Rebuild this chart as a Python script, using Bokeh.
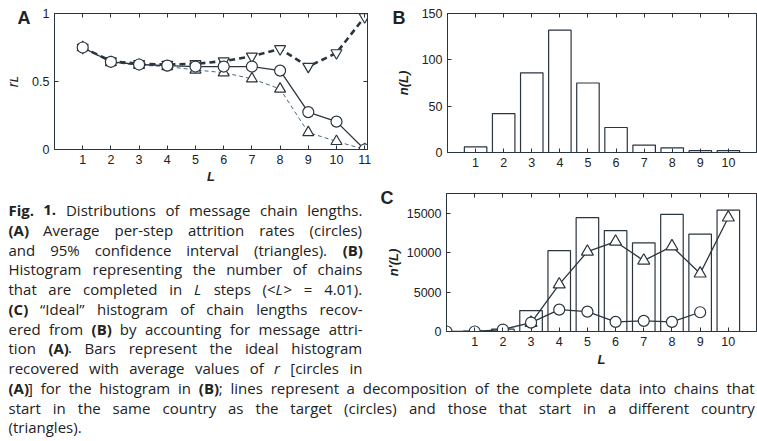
import re
from bokeh.plotting import figure
from bokeh.models import LinearAxis, FixedTicker, Range1d
from bokeh.layouts import column, row
from bokeh.embed import file_html
from bokeh.resources import INLINE
from bokeh.core.properties import value

# ---------------- data ----------------
# Panel A: per-step attrition rates
L_a = [1, 2, 3, 4, 5, 6, 7, 8, 9, 10, 11]
r_mean = [0.75, 0.645, 0.625, 0.617, 0.61, 0.61, 0.61, 0.58, 0.275, 0.205, 0.0]
r_upper = [0.75, 0.65, 0.63, 0.625, 0.63, 0.65, 0.685, 0.74, 0.61, 0.71, 0.975]
r_lower = [0.75, 0.64, 0.62, 0.61, 0.585, 0.565, 0.52, 0.445, 0.125, 0.06, 0.0]
a_xticks = [1, 2, 3, 4, 5, 6, 7, 8, 9, 10, 11]
a_yticks = [0, 0.5, 1]
a_ylabels = {0: "0", 0.5: "0.5", 1: "1"}

# Panel B: histogram of completed chains
L_b = [1, 2, 3, 4, 5, 6, 7, 8, 9, 10]
n_L = [6, 42, 86, 132, 75, 27, 8, 5, 2, 2]
b_yticks = [0, 50, 100, 150]

# Panel C: ideal histogram and decomposition
L_c = [1, 2, 3, 4, 5, 6, 7, 8, 9, 10]
n_ideal = [50, 300, 2650, 10250, 14450, 12800, 11250, 14850, 12350, 15400]
L_same = [0, 1, 2, 3, 4, 5, 6, 7, 8, 9]
n_same = [0, 0, 250, 1130, 2770, 2520, 1220, 1350, 1220, 2440]
L_diff = [3, 4, 5, 6, 7, 8, 9, 10]
n_diff = [1100, 5970, 10130, 11390, 8990, 10800, 7350, 14450]
c_xticks = [1, 2, 3, 4, 5, 6, 7, 8, 9, 10]
c_yticks = [0, 5000, 10000, 15000]

caption_lines = [
    "**Fig.** **1.** Distributions of message chain lengths.",
    "**(A)** Average per-step attrition rates (circles)",
    "and 95% confidence interval (triangles). **(B)**",
    "Histogram representing the number of chains",
    "that are completed in *L* steps (<*L*> = 4.01).",
    "**(C)** \u201cIdeal\u201d histogram of chain lengths recov-",
    "ered from **(B)** by accounting for message attri-",
    "tion **(A)**. Bars represent the ideal histogram",
    "recovered with average values of *r* [circles in",
    "**(A)**] for the histogram in **(B)**; lines represent a decomposition of the complete data into chains that",
    "start in the same country as the target (circles) and those that start in a different country",
    "(triangles).",
]

# ---------------- style ----------------
INK = "#2b3540"
TXT = "#222222"
AXFONT = "Liberation Sans"
TICKFS = "12.5px"
CAPFONT = "Open Sans"
CAPFS = 15.0


def style_axis(ax, ticks, labels=True, overrides=None):
    ax.ticker = FixedTicker(ticks=ticks)
    ax.major_tick_in = 4
    ax.major_tick_out = 0
    ax.minor_tick_line_color = None
    ax.axis_line_color = INK
    ax.major_tick_line_color = INK
    ax.major_label_text_font = AXFONT
    ax.major_label_text_color = TXT
    if labels:
        ax.major_label_text_font_size = TICKFS
        ax.major_label_standoff = 5
        if overrides:
            ax.major_label_overrides = overrides
    else:
        ax.major_label_text_font_size = "0px"
        ax.major_label_standoff = 0
        ax.major_label_overrides = {t: "" for t in ticks}


def panel(w, h, xr, yr, bl, br, bt, bb, xticks, yticks, yover=None, right_ticks=True):
    p = figure(width=w, height=h, x_range=Range1d(*xr), y_range=Range1d(*yr),
               output_backend="svg", toolbar_location=None, tools="",
               min_border_left=bl, min_border_right=br,
               min_border_top=bt, min_border_bottom=bb)
    p.frame_align = False
    p.grid.visible = False
    p.outline_line_color = INK
    p.outline_line_width = 1
    p.background_fill_color = "white"
    p.border_fill_color = "white"
    xb = p.xaxis[0]
    yl = p.yaxis[0]
    style_axis(xb, xticks)
    style_axis(yl, yticks, overrides=yover)
    top = LinearAxis()
    style_axis(top, xticks, labels=False)
    p.add_layout(top, "above")
    if right_ticks:
        right = LinearAxis()
        style_axis(right, yticks, labels=False)
        p.add_layout(right, "right")
    return p, xb, yl


def axis_label(ax, text, standoff, size="13px", style="bold italic"):
    ax.axis_label = text
    ax.axis_label_text_font = AXFONT
    ax.axis_label_text_font_size = size
    ax.axis_label_text_font_style = style
    ax.axis_label_text_color = TXT
    ax.axis_label_standoff = standoff


def letter_axis(p, y, text, standoff):
    """Panel letter drawn as the single tick label of an extra (line-less) left axis."""
    ax = LinearAxis(ticker=FixedTicker(ticks=[y]), major_label_overrides={y: text},
                    axis_line_color=None, major_tick_line_color=None,
                    minor_tick_line_color=None, major_tick_in=0, major_tick_out=0,
                    major_label_text_font=AXFONT, major_label_text_font_size="18px",
                    major_label_text_font_style="bold", major_label_text_color=TXT,
                    major_label_standoff=standoff)
    p.add_layout(ax, "left")
    return ax


MK = dict(fill_color="white", line_color=INK, line_width=1.2)

# ---------------- Panel A ----------------
pa, pa_x, pa_y = panel(380, 186, (0, 11.1), (0, 1), 54, 13, 13, 33, a_xticks, a_yticks, a_ylabels)
axis_label(pa_x, "L", 2)
pa.line(L_a, r_lower, line_color="#4d6675", line_width=1, line_dash="4 3")
pa.line(L_a, r_upper, line_color=INK, line_width=2.6, line_dash="6 4")
pa.line(L_a, r_mean, line_color=INK, line_width=1.3)
pa.scatter(L_a, r_lower, marker="triangle", size=11, **MK)
pa.scatter(L_a, r_upper, marker="inverted_triangle", size=11, **MK)
pa.scatter(L_a, r_mean, marker="circle", size=11, **MK)
ax_A = letter_axis(pa, 0.97, "A", -1)
axis_label(ax_A, "r\u029f", -6, size="15px", style="italic")

# ---------------- Panel B ----------------
pb, pb_x, pb_y = panel(377, 186, (0, 11), (0, 150), 67, 1, 13, 34, L_b, b_yticks,
                       right_ticks=False)
axis_label(pb_y, "n(L)", 8)
pb.vbar(x=L_b, top=n_L, width=0.8, fill_color="white", line_color=INK, line_width=1.2)
letter_axis(pb, 145.5, "B", -13)

# ---------------- Panel C ----------------
X0, X1_COL, X1_FULL = 8, 362, 754
BASE0, STEP = 209.5, 19.75
TOP2, TOP3 = 186, 379

pc, pc_x, pc_y = panel(387, TOP3 - TOP2, (0, 11), (0, 17500), 76, 1, 7, TOP3 - 331,
                       c_xticks, c_yticks, right_ticks=False)
axis_label(pc_y, "n\u2032(L)", 3)
axis_label(pc_x, "L", 3)
pc.vbar(x=L_c, top=n_ideal, width=0.8, fill_color="white", line_color=INK, line_width=1.2)
pc.line(L_diff, n_diff, line_color=INK, line_width=1.3)
pc.line(L_same, n_same, line_color=INK, line_width=1.3)
pc.scatter(L_diff, n_diff, marker="triangle", size=12, **MK)
pc.scatter(L_same, n_same, marker="circle", size=11, **MK)
letter_axis(pc, 16950, "C", -11)

# ---------------- Caption ----------------
CW = {' ': .26, '!': .27, '"': .40, '%': .82, "'": .22, '(': .30, ')': .30, ',': .25,
      '-': .32, '.': .27, ':': .27, ';': .27, '<': .57, '=': .57, '>': .57, '[': .33,
      ']': .33, '\u201c': .36, '\u201d': .36,
      'A': .63, 'B': .65, 'C': .63, 'D': .73, 'E': .56, 'F': .52, 'G': .73, 'H': .75,
      'I': .28, 'L': .53, 'M': .92, 'N': .77, 'O': .78, 'P': .60, 'R': .62, 'S': .55,
      'T': .55,
      'a': .56, 'b': .61, 'c': .48, 'd': .61, 'e': .56, 'f': .34, 'g': .55, 'h': .61,
      'i': .26, 'j': .26, 'k': .53, 'l': .26, 'm': .93, 'n': .61, 'o': .60, 'p': .61,
      'q': .61, 'r': .41, 's': .48, 't': .35, 'u': .61, 'v': .50, 'w': .78, 'x': .52,
      'y': .50, 'z': .47}


def seg_width(t, st):
    em = sum(CW.get(c, 0.572) for c in t)
    if st == "bold":
        em *= 1.06
    return em * CAPFS


def parse_word(word):
    segs = []
    for m in re.finditer(r"\*\*(.+?)\*\*|\*(.+?)\*|([^*]+)", word):
        if m.group(1):
            segs.append((m.group(1), "bold"))
        elif m.group(2):
            segs.append((m.group(2), "italic"))
        else:
            segs.append((m.group(3), "normal"))
    return segs


def place_line(line, x0, x1, base, justify):
    words = [parse_word(w) for w in line.split(" ")]
    widths = [sum(seg_width(t, s) for t, s in ws) for ws in words]
    if justify and len(words) > 1:
        gap = (x1 - x0 - sum(widths)) / (len(words) - 1)
    else:
        gap = CW[' '] * CAPFS
    out = []
    x = x0
    for ws, w in zip(words, widths):
        xx = x
        for t, s in ws:
            out.append((xx, base, t, s))
            xx += seg_width(t, s)
        x += w + gap
    return out


def caption_fig(w, h, items):
    p = figure(width=w, height=h, x_range=Range1d(0, w), y_range=Range1d(h, 0),
               output_backend="svg", toolbar_location=None, tools="",
               x_axis_location=None, y_axis_location=None, min_border=0)
    p.frame_align = False
    p.grid.visible = False
    p.outline_line_color = None
    p.background_fill_color = "white"
    p.border_fill_color = "white"
    for st in ("normal", "bold", "italic"):
        sel = [it for it in items if it[3] == st]
        if not sel:
            continue
        p.text(x=[it[0] for it in sel], y=[it[1] for it in sel], text=[it[2] for it in sel],
               text_font=value(CAPFONT), text_font_size="%.1fpx" % CAPFS,
               text_font_style=st, text_color=TXT, text_align="left",
               text_baseline="alphabetic")
    return p


items_left, items_bottom = [], []
for i, line in enumerate(caption_lines):
    base = BASE0 + STEP * i
    if i < 9:
        items_left += place_line(line, X0, X1_COL, base - TOP2, True)
    else:
        items_bottom += place_line(line, X0, X1_FULL, base - TOP3, i < 11)

cap_left = caption_fig(370, TOP3 - TOP2, items_left)
cap_bottom = caption_fig(757, 441 - TOP3, items_bottom)

layout = column(row(pa, pb), row(cap_left, pc), cap_bottom)

with open("out.html", "w") as f:
    f.write(file_html(layout, INLINE))
